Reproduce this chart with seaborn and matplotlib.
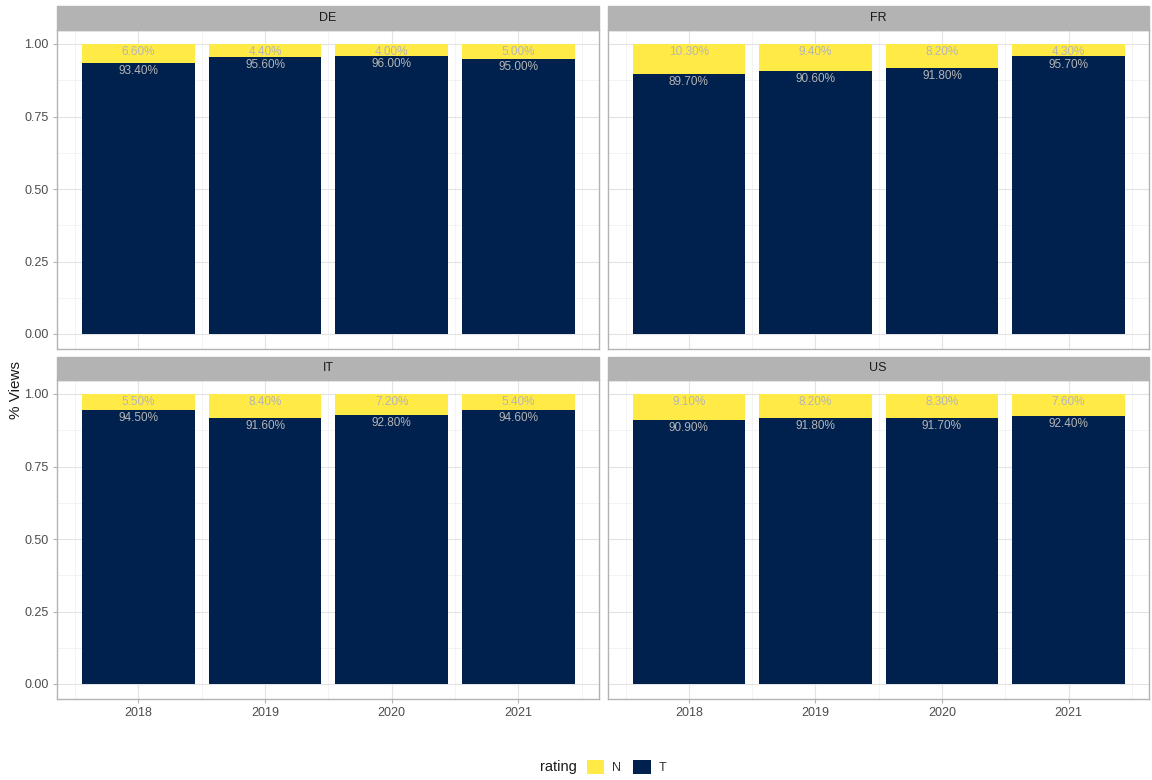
import matplotlib
matplotlib.use("Agg")
import matplotlib.pyplot as plt
from matplotlib.patches import Rectangle, Patch
import seaborn as sns
import numpy as np

# ---- data ----
years = ["2018", "2019", "2020", "2021"]
countries = ["DE", "FR", "IT", "US"]
t_de = [93.4, 95.6, 96.0, 95.0]
n_de = [6.6, 4.4, 4.0, 5.0]
t_fr = [89.7, 90.6, 91.8, 95.7]
n_fr = [10.3, 9.4, 8.2, 4.3]
t_it = [94.5, 91.6, 92.8, 94.6]
n_it = [5.5, 8.4, 7.2, 5.4]
t_us = [90.9, 91.8, 91.7, 92.4]
n_us = [9.1, 8.2, 8.3, 7.6]
y_ticks = [0.0, 0.25, 0.5, 0.75, 1.0]
y_tick_labels = ["0.00", "0.25", "0.50", "0.75", "1.00"]
ratings = ["N", "T"]

T_vals = {"DE": t_de, "FR": t_fr, "IT": t_it, "US": t_us}
N_vals = {"DE": n_de, "FR": n_fr, "IT": n_it, "US": n_us}

sns.set_theme(style="white")
plt.rcParams["font.family"] = ["Liberation Sans", "DejaVu Sans"]

YELLOW = "#FFEA46"
NAVY = "#00204D"
GRID = "#e3e3e3"
GRID_MINOR = "#efefef"
BORDER = "#b3b3b3"
LABEL_COL = "#b5b5b5"

W, H = 1152, 780
fig = plt.figure(figsize=(W / 100, H / 100), dpi=100)

def fx(px):
    return px / W

def fy(px):
    return 1 - px / H

panel_x = [(57, 599), (607.5, 1149)]
panel_y = [(29.5, 348.5), (379.5, 698.5)]
strip_h = 23

for idx, c in enumerate(countries):
    r, col = divmod(idx, 2)
    x0, x1 = panel_x[col]
    y0, y1 = panel_y[r]
    ax = fig.add_axes([fx(x0), fy(y1), fx(x1 - x0), (y1 - y0) / H])
    tv = np.array(T_vals[c]) / 100
    nv = np.array(N_vals[c]) / 100
    tot = tv + nv
    sns.barplot(x=years, y=tot, color=YELLOW, saturation=1, width=0.89,
                ax=ax, edgecolor="none", linewidth=0, zorder=3)
    sns.barplot(x=years, y=tv, color=NAVY, saturation=1, width=0.89,
                ax=ax, edgecolor="none", linewidth=0, zorder=3)
    for i in range(len(years)):
        ax.annotate(f"{nv[i]*100:.2f}%", (i, tot[i]), xytext=(0, -1.5),
                    textcoords="offset points", ha="center", va="top",
                    fontsize=8.5, color=LABEL_COL, zorder=5)
        ax.annotate(f"{tv[i]*100:.2f}%", (i, tv[i]), xytext=(0, -1.5),
                    textcoords="offset points", ha="center", va="top",
                    fontsize=8.5, color=LABEL_COL, zorder=5)
    ax.set_xlim(-0.643, 3.636)
    ax.set_ylim(-0.05, 1.05)
    ax.set_yticks(y_ticks)
    ax.set_yticks([0.125, 0.375, 0.625, 0.875], minor=True)
    ax.set_xticks(range(len(years)))
    ax.set_xticks([-0.5, 0.5, 1.5, 2.5, 3.5], minor=True)
    ax.grid(True, which="major", color=GRID, lw=0.8, zorder=0)
    ax.grid(True, which="minor", color=GRID_MINOR, lw=0.5, zorder=0)
    ax.set_axisbelow(True)
    ax.set_xlabel("")
    ax.set_ylabel("")
    if col == 0:
        ax.set_yticklabels(y_tick_labels)
    else:
        ax.set_yticklabels([])
    if r == 1:
        ax.set_xticklabels(years)
    else:
        ax.set_xticklabels([])
    ax.tick_params(axis="both", which="major", length=3, color=BORDER,
                   labelsize=9, labelcolor="#4d4d4d", width=0.8, pad=3)
    ax.tick_params(axis="y", left=(col == 0))
    ax.tick_params(axis="x", bottom=(r == 1))
    ax.tick_params(which="minor", length=0)
    for s in ax.spines.values():
        s.set_color(BORDER)
        s.set_linewidth(1.0)
        s.set_visible(True)
    hfrac = strip_h / (y1 - y0)
    ax.add_patch(Rectangle((0, 1), 1, hfrac, transform=ax.transAxes,
                           facecolor="#b3b3b3", edgecolor="#b3b3b3",
                           clip_on=False, zorder=6))
    ax.text(0.5, 1 + hfrac / 2, c, transform=ax.transAxes, ha="center",
            va="center", fontsize=9, color="#1a1a1a", zorder=7)

fig.text(fx(16), fy(390), "% Views", rotation=90, ha="center", va="center",
         fontsize=11, color="#1a1a1a")

fig.text(fx(577), fy(767), "rating", ha="right", va="center",
         fontsize=10.5, color="#1a1a1a")
handles = [Patch(facecolor=YELLOW, edgecolor="none"),
           Patch(facecolor=NAVY, edgecolor="none")]
fig.legend(handles, ratings, loc="center left",
           bbox_to_anchor=(fx(578), fy(767)), ncol=2, frameon=False,
           handlelength=1.4, handleheight=1.4, handletextpad=0.6,
           columnspacing=1.0, fontsize=9, labelcolor="#333333",
           borderpad=0.2)

fig.savefig("out.png", dpi=100)
